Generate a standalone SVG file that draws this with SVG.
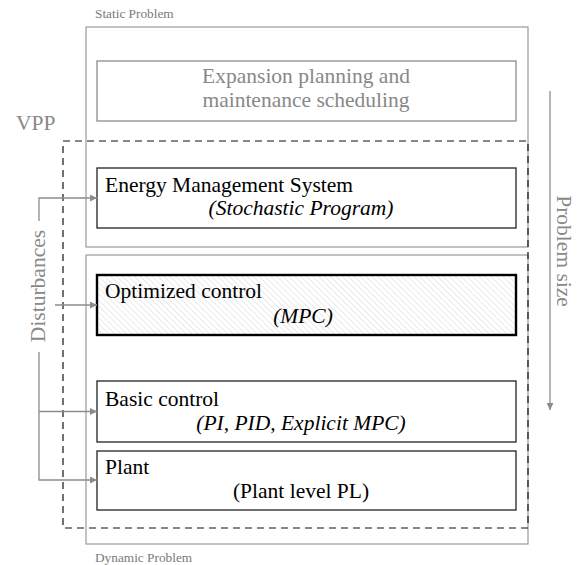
<svg xmlns="http://www.w3.org/2000/svg" width="584" height="565" viewBox="0 0 584 565">
<style>
text{font-family:"Liberation Serif","Times New Roman",serif;}
.big{font-size:21.5px;}
.small{font-size:13.3px;fill:#7a7a7a;}
.gray{fill:#888;}
.blk{fill:#000;}
.it{font-style:italic;}
.outer{fill:none;stroke:#9a9a9a;stroke-width:1.2;}
.node{fill:#fff;stroke:#222;stroke-width:1.3;}
.conn{fill:none;stroke:#8c8c8c;stroke-width:1.3;}
</style>
<defs>
<pattern id="hatch" patternUnits="userSpaceOnUse" width="4.2" height="4.2" patternTransform="rotate(-45)">
<line x1="0" y1="0" x2="0" y2="4.2" stroke="#c4c4c4" stroke-width="0.7"/>
</pattern>
<marker id="arr" viewBox="0 0 10 10" refX="10" refY="5" markerWidth="8" markerHeight="7" markerUnits="userSpaceOnUse" orient="auto">
<path d="M0,0 L10,5 L0,10 z" fill="#8c8c8c"/>
</marker>
</defs>

<g id="static-problem">
<rect class="outer" x="86" y="27" width="442" height="220"/>
<text class="small" x="95" y="18">Static Problem</text>
</g>
<g id="dynamic-problem">
<rect class="outer" x="86" y="255" width="442" height="289"/>
<text class="small" x="95" y="562">Dynamic Problem</text>
</g>

<g id="expansion">
<rect x="97" y="61" width="419" height="60" fill="#fff" stroke="#8c8c8c" stroke-width="1.3"/>
<text class="big gray" x="306" y="83" text-anchor="middle">Expansion planning and</text>
<text class="big gray" x="306" y="107" text-anchor="middle">maintenance scheduling</text>
</g>

<g id="vpp">
<rect x="63" y="141" width="465" height="387" fill="none" stroke="#111" stroke-width="1.2" stroke-dasharray="7,5"/>
<text class="big gray" x="16" y="130">VPP</text>
</g>

<g id="ems">
<rect class="node" x="97" y="168" width="419" height="60"/>
<text class="big blk" x="105" y="192">Energy Management System</text>
<text class="big blk it" x="301" y="215" text-anchor="middle">(Stochastic Program)</text>
</g>

<g id="optimized">
<rect x="97" y="275" width="419" height="60" fill="#fff" stroke="none"/>
<rect x="97" y="275" width="419" height="60" fill="url(#hatch)" stroke="#000" stroke-width="2.4"/>
<text class="big blk" x="105" y="298">Optimized control</text>
<text class="big blk it" x="303" y="323" text-anchor="middle">(MPC)</text>
</g>

<g id="basic">
<rect class="node" x="97" y="381" width="419" height="61"/>
<text class="big blk" x="105" y="406">Basic control</text>
<text class="big blk it" x="301" y="430" text-anchor="middle">(PI, PID, Explicit MPC)</text>
</g>

<g id="plant">
<rect class="node" x="97" y="451" width="419" height="59"/>
<text class="big blk" x="105" y="474">Plant</text>
<text class="big blk" x="301" y="498" text-anchor="middle">(Plant level PL)</text>
</g>

<g id="disturbances">
<text class="big gray" transform="translate(45,286) rotate(-90)" text-anchor="middle">Disturbances</text>
</g>

<g id="problem-size">
<text class="big gray" transform="translate(557,251) rotate(90)" text-anchor="middle">Problem size</text>
</g>

<g id="connectors">
<path class="conn" d="M39,221 V198 H97" marker-end="url(#arr)"/>
<path class="conn" d="M55,305 H97" marker-end="url(#arr)"/>
<path class="conn" d="M39,352 V480 H97" marker-end="url(#arr)"/>
<path class="conn" d="M39,411.5 H97" marker-end="url(#arr)"/>
<path class="conn" d="M550,91 V410" marker-end="url(#arr)"/>
</g>
</svg>
